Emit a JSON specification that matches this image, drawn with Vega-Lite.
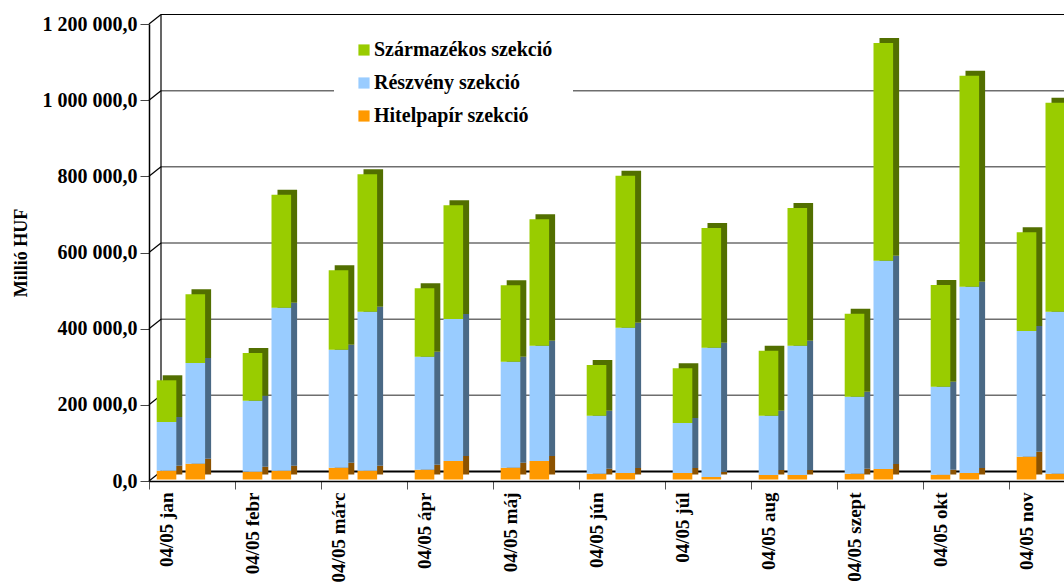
{
  "$schema": "https://vega.github.io/schema/vega-lite/v6.json",
  "autosize": {"type": "none"},
  "width": 915,
  "height": 457,
  "padding": {"left": 149, "top": 24, "right": 0, "bottom": 103},
  "background": "white",
  "config": {
    "locale": {"number": {"decimal": ",", "thousands": " ", "grouping": [3], "currency": ["", ""]}},
    "view": {"stroke": null},
    "font": "Liberation Serif",
    "axisX": {
      "title": null, "bandPosition": 0, "labelOffset": -25, "labelAngle": 270,
      "labelFont": "Liberation Serif", "labelFontSize": 19, "labelFontWeight": "bold", "labelColor": "black",
      "tickSize": 8, "tickColor": "#555555", "domainColor": "black", "domainWidth": 1.5,
      "labelPadding": 3, "labelOverlap": false, "labelBound": false, "labelFlush": false, "grid": false
    },
    "axisY": {
      "labelFont": "Liberation Serif", "labelFontSize": 20, "labelFontWeight": "bold", "labelColor": "black",
      "tickSize": 9, "tickColor": "#444444", "domainColor": "black", "domainWidth": 1.5, "labelPadding": 3,
      "titleFont": "Liberation Serif", "titleFontSize": 18, "titleFontWeight": "bold", "titleColor": "black",
      "titlePadding": 12, "grid": false, "labelFlush": false
    }
  },
  "datasets": {
    "bars": [
      {"honap": "04/05 jan", "ev": "2004", "szekcio": "Hitelpapír szekció", "ertek": 23100},
      {"honap": "04/05 jan", "ev": "2004", "szekcio": "Részvény szekció", "ertek": 127900},
      {"honap": "04/05 jan", "ev": "2004", "szekcio": "Származékos szekció", "ertek": 109500},
      {"honap": "04/05 jan", "ev": "2005", "szekcio": "Hitelpapír szekció", "ertek": 41500},
      {"honap": "04/05 jan", "ev": "2005", "szekcio": "Részvény szekció", "ertek": 264400},
      {"honap": "04/05 jan", "ev": "2005", "szekcio": "Származékos szekció", "ertek": 180300},
      {"honap": "04/05 febr", "ev": "2004", "szekcio": "Hitelpapír szekció", "ertek": 20500},
      {"honap": "04/05 febr", "ev": "2004", "szekcio": "Részvény szekció", "ertek": 186400},
      {"honap": "04/05 febr", "ev": "2004", "szekcio": "Származékos szekció", "ertek": 125300},
      {"honap": "04/05 febr", "ev": "2005", "szekcio": "Hitelpapír szekció", "ertek": 23100},
      {"honap": "04/05 febr", "ev": "2005", "szekcio": "Részvény szekció", "ertek": 428100},
      {"honap": "04/05 febr", "ev": "2005", "szekcio": "Származékos szekció", "ertek": 296700},
      {"honap": "04/05 márc", "ev": "2004", "szekcio": "Hitelpapír szekció", "ertek": 31000},
      {"honap": "04/05 márc", "ev": "2004", "szekcio": "Részvény szekció", "ertek": 309900},
      {"honap": "04/05 márc", "ev": "2004", "szekcio": "Származékos szekció", "ertek": 208500},
      {"honap": "04/05 márc", "ev": "2005", "szekcio": "Hitelpapír szekció", "ertek": 23100},
      {"honap": "04/05 márc", "ev": "2005", "szekcio": "Részvény szekció", "ertek": 417600},
      {"honap": "04/05 márc", "ev": "2005", "szekcio": "Származékos szekció", "ertek": 360800},
      {"honap": "04/05 ápr", "ev": "2004", "szekcio": "Hitelpapír szekció", "ertek": 25700},
      {"honap": "04/05 ápr", "ev": "2004", "szekcio": "Részvény szekció", "ertek": 296800},
      {"honap": "04/05 ápr", "ev": "2004", "szekcio": "Származékos szekció", "ertek": 179600},
      {"honap": "04/05 ápr", "ev": "2005", "szekcio": "Hitelpapír szekció", "ertek": 48600},
      {"honap": "04/05 ápr", "ev": "2005", "szekcio": "Részvény szekció", "ertek": 372900},
      {"honap": "04/05 ápr", "ev": "2005", "szekcio": "Származékos szekció", "ertek": 298600},
      {"honap": "04/05 máj", "ev": "2004", "szekcio": "Hitelpapír szekció", "ertek": 31000},
      {"honap": "04/05 máj", "ev": "2004", "szekcio": "Részvény szekció", "ertek": 278300},
      {"honap": "04/05 máj", "ev": "2004", "szekcio": "Származékos szekció", "ertek": 200700},
      {"honap": "04/05 máj", "ev": "2005", "szekcio": "Hitelpapír szekció", "ertek": 48600},
      {"honap": "04/05 máj", "ev": "2005", "szekcio": "Részvény szekció", "ertek": 302800},
      {"honap": "04/05 máj", "ev": "2005", "szekcio": "Származékos szekció", "ertek": 331900},
      {"honap": "04/05 jún", "ev": "2004", "szekcio": "Hitelpapír szekció", "ertek": 15200},
      {"honap": "04/05 jún", "ev": "2004", "szekcio": "Részvény szekció", "ertek": 152300},
      {"honap": "04/05 jún", "ev": "2004", "szekcio": "Származékos szekció", "ertek": 133200},
      {"honap": "04/05 jún", "ev": "2005", "szekcio": "Hitelpapír szekció", "ertek": 17100},
      {"honap": "04/05 jún", "ev": "2005", "szekcio": "Részvény szekció", "ertek": 381500},
      {"honap": "04/05 jún", "ev": "2005", "szekcio": "Származékos szekció", "ertek": 399200},
      {"honap": "04/05 júl", "ev": "2004", "szekcio": "Hitelpapír szekció", "ertek": 17100},
      {"honap": "04/05 júl", "ev": "2004", "szekcio": "Részvény szekció", "ertek": 131300},
      {"honap": "04/05 júl", "ev": "2004", "szekcio": "Származékos szekció", "ertek": 143600},
      {"honap": "04/05 júl", "ev": "2005", "szekcio": "Hitelpapír szekció", "ertek": 6600},
      {"honap": "04/05 júl", "ev": "2005", "szekcio": "Részvény szekció", "ertek": 339500},
      {"honap": "04/05 júl", "ev": "2005", "szekcio": "Származékos szekció", "ertek": 314400},
      {"honap": "04/05 aug", "ev": "2004", "szekcio": "Hitelpapír szekció", "ertek": 11800},
      {"honap": "04/05 aug", "ev": "2004", "szekcio": "Részvény szekció", "ertek": 155700},
      {"honap": "04/05 aug", "ev": "2004", "szekcio": "Származékos szekció", "ertek": 170700},
      {"honap": "04/05 aug", "ev": "2005", "szekcio": "Hitelpapír szekció", "ertek": 11800},
      {"honap": "04/05 aug", "ev": "2005", "szekcio": "Részvény szekció", "ertek": 339600},
      {"honap": "04/05 aug", "ev": "2005", "szekcio": "Származékos szekció", "ertek": 361600},
      {"honap": "04/05 szept", "ev": "2004", "szekcio": "Hitelpapír szekció", "ertek": 15200},
      {"honap": "04/05 szept", "ev": "2004", "szekcio": "Részvény szekció", "ertek": 202000},
      {"honap": "04/05 szept", "ev": "2004", "szekcio": "Származékos szekció", "ertek": 218000},
      {"honap": "04/05 szept", "ev": "2005", "szekcio": "Hitelpapír szekció", "ertek": 27600},
      {"honap": "04/05 szept", "ev": "2005", "szekcio": "Részvény szekció", "ertek": 547000},
      {"honap": "04/05 szept", "ev": "2005", "szekcio": "Származékos szekció", "ertek": 571700},
      {"honap": "04/05 okt", "ev": "2004", "szekcio": "Hitelpapír szekció", "ertek": 12600},
      {"honap": "04/05 okt", "ev": "2004", "szekcio": "Részvény szekció", "ertek": 231100},
      {"honap": "04/05 okt", "ev": "2004", "szekcio": "Származékos szekció", "ertek": 267100},
      {"honap": "04/05 okt", "ev": "2005", "szekcio": "Hitelpapír szekció", "ertek": 17100},
      {"honap": "04/05 okt", "ev": "2005", "szekcio": "Részvény szekció", "ertek": 489200},
      {"honap": "04/05 okt", "ev": "2005", "szekcio": "Származékos szekció", "ertek": 554100},
      {"honap": "04/05 nov", "ev": "2004", "szekcio": "Hitelpapír szekció", "ertek": 59900},
      {"honap": "04/05 nov", "ev": "2004", "szekcio": "Részvény szekció", "ertek": 330100},
      {"honap": "04/05 nov", "ev": "2004", "szekcio": "Származékos szekció", "ertek": 259200},
      {"honap": "04/05 nov", "ev": "2005", "szekcio": "Hitelpapír szekció", "ertek": 15200},
      {"honap": "04/05 nov", "ev": "2005", "szekcio": "Részvény szekció", "ertek": 425500},
      {"honap": "04/05 nov", "ev": "2005", "szekcio": "Származékos szekció", "ertek": 548800}
    ]
  },
  "layer": [
    {
      "data": {"values": [{"v": 200000}, {"v": 400000}, {"v": 600000}, {"v": 800000}, {"v": 1000000}]},
      "mark": {"type": "rule", "xOffset": 12, "yOffset": -9.5, "y2Offset": -9.5, "color": "#6e6e6e", "strokeWidth": 1.5},
      "encoding": {
        "x": {"datum": "04/05 jan", "bandPosition": 0},
        "x2": {"datum": "04/05 nov", "bandPosition": 1},
        "y": {"field": "v", "type": "quantitative", "title": "Millió HUF"}
      }
    },
    {
      "data": {"values": [{"v": 1200000}]},
      "mark": {"type": "rule", "xOffset": 12, "yOffset": -9.5, "color": "black", "strokeWidth": 1.2},
      "encoding": {
        "x": {"datum": "04/05 jan", "bandPosition": 0},
        "x2": {"datum": "04/05 nov", "bandPosition": 1},
        "y": {"field": "v", "type": "quantitative", "title": "Millió HUF"}
      }
    },
    {
      "data": {"values": [{"v": 0}]},
      "mark": {"type": "rule", "xOffset": 12, "yOffset": -9.5, "color": "black", "strokeWidth": 2.2},
      "encoding": {
        "x": {"datum": "04/05 jan", "bandPosition": 0},
        "x2": {"datum": "04/05 nov", "bandPosition": 1},
        "y": {"field": "v", "type": "quantitative", "title": "Millió HUF"}
      }
    },
    {
      "data": {"values": [{"a": 0, "b": 1200000}]},
      "mark": {"type": "rule", "xOffset": 12, "yOffset": -9.5, "y2Offset": -9.5, "color": "black", "strokeWidth": 1.2},
      "encoding": {
        "x": {"datum": "04/05 jan", "bandPosition": 0},
        "y": {"field": "a", "type": "quantitative", "title": "Millió HUF"},
        "y2": {"field": "b"}
      }
    },
    {
      "data": {"values": [{"v": 0}, {"v": 200000}, {"v": 400000}, {"v": 600000}, {"v": 800000}, {"v": 1000000}, {"v": 1200000}]},
      "mark": {"type": "rule", "x2Offset": 12, "y2Offset": -9.5, "color": "black", "strokeWidth": 1.2},
      "encoding": {
        "x": {"datum": "04/05 jan", "bandPosition": 0},
        "x2": {"datum": "04/05 jan", "bandPosition": 0},
        "y": {"field": "v", "type": "quantitative", "title": "Millió HUF"},
        "y2": {"field": "v"}
      }
    },
    {
      "data": {"name": "bars"},
      "mark": {"type": "bar", "yOffset": -6.5},
      "encoding": {
        "x": {"field": "honap", "type": "nominal"},
        "xOffset": {"field": "ev", "type": "nominal", "scale": {"paddingInner": 0.319, "paddingOuter": 0.6527, "align": 0.3645}},
        "y": {"field": "ertek", "type": "quantitative", "stack": "zero", "title": "Millió HUF"},
        "color": {"field": "szekcio", "type": "nominal", "legend": null,
          "scale": {"domain": ["Származékos szekció", "Részvény szekció", "Hitelpapír szekció"], "range": ["#526F00", "#4A6985", "#8C5200"]}},
        "order": {"field": "szekcio", "sort": "ascending"}
      }
    },
    {
      "data": {"name": "bars"},
      "mark": {"type": "bar", "yOffset": -1.5},
      "encoding": {
        "x": {
          "field": "honap", "type": "nominal",
          "scale": {
            "domain": ["04/05 jan", "04/05 febr", "04/05 márc", "04/05 ápr", "04/05 máj", "04/05 jún", "04/05 júl", "04/05 aug", "04/05 szept", "04/05 okt", "04/05 nov"],
            "range": [0, 946], "paddingInner": 0, "paddingOuter": 0
          },
          "axis": {"title": null}
        },
        "xOffset": {"field": "ev", "type": "nominal", "scale": {"paddingInner": 0.319, "paddingOuter": 0.6527, "align": 0.205}},
        "y": {
          "field": "ertek", "type": "quantitative", "stack": "zero", "title": "Millió HUF",
          "scale": {"domain": [0, 1200000], "nice": false},
          "axis": {"values": [0, 200000, 400000, 600000, 800000, 1000000, 1200000], "format": ",.1f"}
        },
        "color": {
          "field": "szekcio", "type": "nominal",
          "scale": {"domain": ["Származékos szekció", "Részvény szekció", "Hitelpapír szekció"], "range": ["#99CC00", "#99CCFF", "#FF9900"]},
          "legend": {
            "orient": "none", "legendX": 185, "legendY": -4, "title": null, "padding": 20, "fillColor": "white",
            "symbolType": "square", "symbolSize": 125, "symbolStrokeWidth": 0,
            "labelFont": "Liberation Serif", "labelFontSize": 20, "labelFontWeight": "bold", "labelColor": "black",
            "rowPadding": 13, "labelOffset": 0, "labelLimit": 400
          }
        },
        "order": {"field": "szekcio", "sort": "ascending"}
      }
    }
  ],
  "resolve": {"scale": {"color": "independent", "xOffset": "independent"}}
}
